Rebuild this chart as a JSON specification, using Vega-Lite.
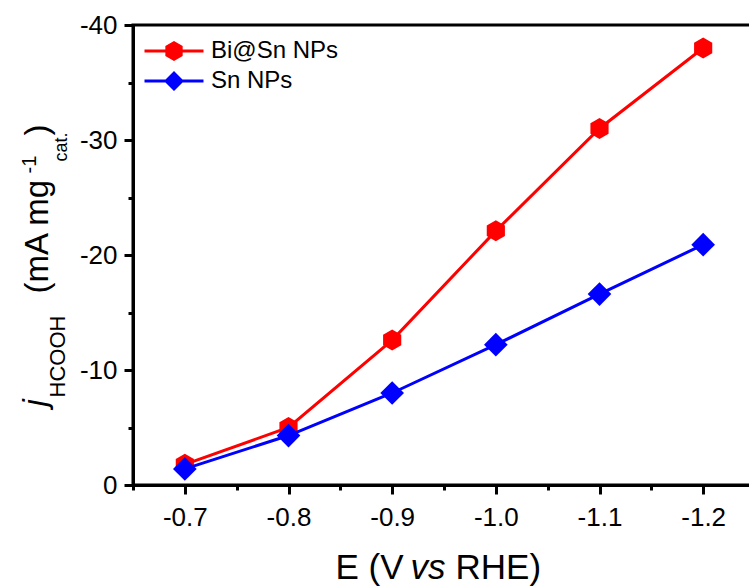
{
  "$schema": "https://vega.github.io/schema/vega-lite/v6.json",
  "autosize": {"type": "none"},
  "padding": {"left": 133, "top": 25, "right": 0, "bottom": 103},
  "width": 622,
  "height": 460,
  "background": "white",
  "config": {
    "view": {"stroke": "black", "strokeWidth": 3},
    "axis": {
      "grid": false,
      "labelFont": "Liberation Sans",
      "titleFont": "Liberation Sans",
      "labelColor": "black",
      "titleColor": "black",
      "domainColor": "black",
      "tickColor": "black",
      "titleFontWeight": "normal",
      "domainWidth": 3,
      "tickWidth": 3
    },
    "legend": {"labelFont": "Liberation Sans"}
  },
  "data": {
    "values": [
      {"series": "Bi@Sn NPs", "E": -0.7, "j": -1.8},
      {"series": "Bi@Sn NPs", "E": -0.8, "j": -5.0},
      {"series": "Bi@Sn NPs", "E": -0.9, "j": -12.6},
      {"series": "Bi@Sn NPs", "E": -1.0, "j": -22.1},
      {"series": "Bi@Sn NPs", "E": -1.1, "j": -31.0},
      {"series": "Bi@Sn NPs", "E": -1.2, "j": -38.0},
      {"series": "Sn NPs", "E": -0.7, "j": -1.4},
      {"series": "Sn NPs", "E": -0.8, "j": -4.3},
      {"series": "Sn NPs", "E": -0.9, "j": -8.0},
      {"series": "Sn NPs", "E": -1.0, "j": -12.2},
      {"series": "Sn NPs", "E": -1.1, "j": -16.6},
      {"series": "Sn NPs", "E": -1.2, "j": -20.9}
    ]
  },
  "resolve": {"axis": {"x": "independent", "y": "independent"}},
  "layer": [
    {
      "transform": [{"filter": "datum.series == 'Bi@Sn NPs'"}],
      "mark": {"type": "line", "color": "#FF0000", "strokeWidth": 3},
      "encoding": {
        "x": {"field": "E", "type": "quantitative",
          "scale": {"domain": [-0.65, -1.25], "nice": false, "zero": false},
          "axis": {"orient": "bottom", "values": [-0.7, -0.8, -0.9, -1.0, -1.1, -1.2],
            "labelExpr": "'-' + format(abs(datum.value), '.1f')",
            "labelFontSize": 26, "labelPadding": 10, "tickSize": 9,
            "title": "E (V", "titleFontSize": 35, "titleX": 202, "titleY": 93,
            "titleAlign": "left", "titleBaseline": "alphabetic", "titleAngle": 0}},
        "y": {"field": "j", "type": "quantitative",
          "scale": {"domain": [0, -40], "nice": false, "zero": false},
          "axis": {"orient": "left", "values": [0, -10, -20, -30, -40],
            "labelExpr": "datum.value == 0 ? '0' : '-' + format(abs(datum.value), 'd')",
            "labelFontSize": 26, "labelPadding": 7, "tickSize": 9,
            "title": "(mA mg", "titleFontSize": 33, "titleX": -86, "titleY": 268,
            "titleAlign": "left", "titleBaseline": "alphabetic", "titleAngle": -90}}
      }
    },
    {
      "transform": [{"filter": "datum.series == 'Bi@Sn NPs'"}],
      "mark": {"type": "point", "filled": true, "opacity": 1, "color": "#FF0000", "size": 440,
        "shape": "M0,-1L0.866,-0.5L0.866,0.5L0,1L-0.866,0.5L-0.866,-0.5Z"},
      "encoding": {
        "x": {"field": "E", "type": "quantitative",
          "scale": {"domain": [-0.65, -1.25], "nice": false, "zero": false},
          "axis": {"orient": "bottom", "values": [-0.65, -0.75, -0.85, -0.95, -1.05, -1.15, -1.25],
            "labels": false, "domain": false, "tickSize": 5,
            "title": "vs", "titleFontSize": 35, "titleFontStyle": "italic", "titleX": 277, "titleY": 93,
            "titleAlign": "left", "titleBaseline": "alphabetic", "titleAngle": 0}},
        "y": {"field": "j", "type": "quantitative",
          "scale": {"domain": [0, -40], "nice": false, "zero": false},
          "axis": {"orient": "left", "values": [-5, -15, -25, -35],
            "labels": false, "domain": false, "tickSize": 5,
            "title": "j", "titleFontSize": 33, "titleFontStyle": "italic", "titleX": -88, "titleY": 381,
            "titleAlign": "left", "titleBaseline": "alphabetic", "titleAngle": -90}}
      }
    },
    {
      "transform": [{"filter": "datum.series == 'Sn NPs'"}],
      "mark": {"type": "line", "color": "#0000FF", "strokeWidth": 3},
      "encoding": {
        "x": {"field": "E", "type": "quantitative",
          "scale": {"domain": [-0.65, -1.25], "nice": false, "zero": false},
          "axis": {"orient": "bottom", "labels": false, "domain": false, "ticks": false,
            "title": "RHE)", "titleFontSize": 35, "titleX": 322, "titleY": 93,
            "titleAlign": "left", "titleBaseline": "alphabetic", "titleAngle": 0}},
        "y": {"field": "j", "type": "quantitative",
          "scale": {"domain": [0, -40], "nice": false, "zero": false},
          "axis": {"orient": "left", "labels": false, "domain": false, "ticks": false,
            "title": "HCOOH", "titleFontSize": 22, "titleX": -69, "titleY": 372,
            "titleAlign": "left", "titleBaseline": "alphabetic", "titleAngle": -90}}
      }
    },
    {
      "transform": [{"filter": "datum.series == 'Sn NPs'"}],
      "mark": {"type": "point", "filled": true, "opacity": 1, "color": "#0000FF", "size": 560, "shape": "diamond"},
      "encoding": {
        "x": {"field": "E", "type": "quantitative",
          "scale": {"domain": [-0.65, -1.25], "nice": false, "zero": false}, "axis": null},
        "y": {"field": "j", "type": "quantitative",
          "scale": {"domain": [0, -40], "nice": false, "zero": false},
          "axis": {"orient": "left", "labels": false, "domain": false, "ticks": false,
            "title": "-1", "titleFontSize": 20, "titleX": -98, "titleY": 148,
            "titleAlign": "left", "titleBaseline": "alphabetic", "titleAngle": -90}}
      }
    },
    {
      "transform": [{"filter": "false"}],
      "mark": {"type": "point", "filled": true, "opacity": 1, "size": 400},
      "encoding": {
        "x": {"field": "E", "type": "quantitative",
          "scale": {"domain": [-0.65, -1.25], "nice": false, "zero": false}, "axis": null},
        "y": {"field": "j", "type": "quantitative",
          "scale": {"domain": [0, -40], "nice": false, "zero": false},
          "axis": {"orient": "left", "labels": false, "domain": false, "ticks": false,
            "title": "cat.", "titleFontSize": 18, "titleX": -67, "titleY": 136,
            "titleAlign": "left", "titleBaseline": "alphabetic", "titleAngle": -90}},
        "color": {"field": "series", "type": "nominal",
          "scale": {"domain": ["Bi@Sn NPs", "Sn NPs"], "range": ["#FF0000", "#0000FF"]},
          "legend": {"title": null, "orient": "none", "legendX": 29, "legendY": 14,
            "labelFontSize": 24, "labelColor": "black", "labelOffset": 25,
            "symbolSize": 400, "symbolStrokeWidth": 0, "symbolOpacity": 1,
            "rowPadding": 6, "padding": 0}},
        "shape": {"field": "series", "type": "nominal",
          "scale": {"domain": ["Bi@Sn NPs", "Sn NPs"], "range": [
            "M0,-1L0.866,-0.5L0.866,0.5L0,1L-0.866,0.5L-0.866,-0.5ZM-2.95,-0.15L2.95,-0.15L2.95,0.15L-2.95,0.15Z",
            "M0,-1L1,0L0,1L-1,0ZM-2.95,-0.15L2.95,-0.15L2.95,0.15L-2.95,0.15Z"]},
          "legend": {"title": null, "orient": "none", "legendX": 29, "legendY": 14,
            "labelFontSize": 24, "labelColor": "black", "labelOffset": 25,
            "symbolSize": 400, "symbolStrokeWidth": 0, "symbolOpacity": 1,
            "rowPadding": 6, "padding": 0}}
      }
    },
    {
      "transform": [{"filter": "false"}],
      "mark": {"type": "point"},
      "encoding": {
        "x": {"field": "E", "type": "quantitative",
          "scale": {"domain": [-0.65, -1.25], "nice": false, "zero": false}, "axis": null},
        "y": {"field": "j", "type": "quantitative",
          "scale": {"domain": [0, -40], "nice": false, "zero": false},
          "axis": {"orient": "left", "labels": false, "domain": false, "ticks": false,
            "title": ")", "titleFontSize": 33, "titleX": -86, "titleY": 110,
            "titleAlign": "left", "titleBaseline": "alphabetic", "titleAngle": -90}}
      }
    }
  ]
}
